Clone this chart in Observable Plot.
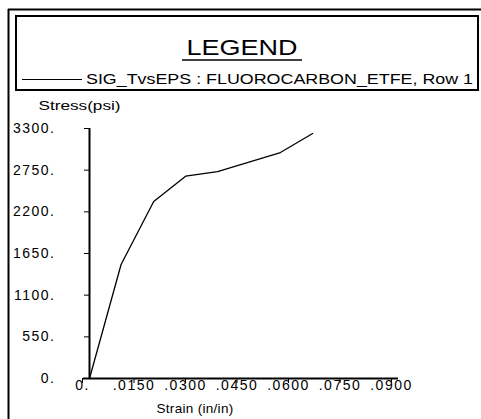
<!DOCTYPE html>
<html>
<head>
<meta charset="utf-8">
<script src="https://cdn.jsdelivr.net/npm/d3@7"></script>
<script src="https://cdn.jsdelivr.net/npm/@observablehq/plot@0.6"></script>
<style>
  html, body { margin: 0; padding: 0; background: #fff; }
  #wrap { position: relative; width: 481px; height: 419px; overflow: hidden; background: #fff; font-family: "Liberation Sans", Arial, sans-serif; }
  #plot { position: absolute; left: 0; top: 90px; }
  #overlay { position: absolute; left: 0; top: 0; pointer-events: none; }
</style>
</head>
<body>
<div id="wrap">
  <div id="plot"></div>
  <svg id="overlay" width="481" height="419"></svg>
</div>
<script>
// Data
const strain = [0, 0.0092, 0.0187, 0.0280, 0.0373, 0.0556, 0.0650];
const stress = [0, 1505, 2336, 2670, 2732, 2983, 3234];

const xTicks = [0, 0.015, 0.03, 0.045, 0.06, 0.075, 0.09];
const xTickLabels = ["0.", ".0150", ".0300", ".0450", ".0600", ".0750", ".0900"];
const yTicks = [0, 550, 1100, 1650, 2200, 2750, 3300];
const yTickLabels = ["0.", "550.", "1100.", "1650.", "2200.", "2750.", "3300."];

const legendTitle = "LEGEND";
const seriesName = "SIG_TvsEPS : FLUOROCARBON_ETFE, Row 1";
const xLabel = "Strain (in/in)";
const yLabel = "Stress(psi)";

const data = strain.map((s, i) => ({strain: s, stress: stress[i]}));

const chart = Plot.plot({
  width: 481,
  height: 329,
  marginTop: 38,
  marginBottom: 41,
  marginLeft: 89,
  marginRight: 83,
  x: {domain: [0, 0.09]},
  y: {domain: [0, 3300]},
  style: {fontFamily: "Liberation Sans, Arial, sans-serif", fontSize: "14px", background: "transparent", color: "black"},
  marks: [
    Plot.axisY({ticks: yTicks, tickSize: 5, tickPadding: 29, tickFormat: d => yTickLabels[yTicks.indexOf(d)], label: null}),
    Plot.axisX({ticks: xTicks, tickSize: 5, tickPadding: -3, dx: -7, tickFormat: d => xTickLabels[xTicks.indexOf(d)], label: null}),
    Plot.ruleX([0], {y1: 0, y2: 3300, stroke: "black", strokeWidth: 2}),
    Plot.ruleY([0], {stroke: "black", strokeWidth: 2, insetLeft: -6}),
    Plot.line(data, {x: "strain", y: "stress", stroke: "black", strokeWidth: 1.3}),
    Plot.text([yLabel], {frameAnchor: "top-left", textAnchor: "start", lineAnchor: "bottom", dx: -51, dy: -19, fontSize: 13}),
    Plot.text([xLabel], {frameAnchor: "bottom", textAnchor: "middle", lineAnchor: "bottom", dx: -49, dy: 34, fontSize: 13.5})
  ]
});
document.getElementById("plot").appendChild(chart);

// widen tick label glyph spacing to match the reference's wide font
chart.querySelectorAll('[aria-label="y-axis tick label"] text, [aria-label="x-axis tick label"] text').forEach(t => {
  t.style.letterSpacing = "1.5px";
});
chart.querySelectorAll('[aria-label="text"] text').forEach(t => {
  if (t.textContent === yLabel) { t.setAttribute("textLength", 82); t.setAttribute("lengthAdjust", "spacingAndGlyphs"); }
  if (t.textContent === xLabel) { t.style.letterSpacing = "0.3px"; }
});

// Frame and legend
const ov = d3.select("#overlay");
ov.append("line").attr("x1", 8.5).attr("y1", 9).attr("x2", 8.5).attr("y2", 419).attr("stroke", "black").attr("stroke-width", 2);
ov.append("line").attr("x1", 8).attr("y1", 9.5).attr("x2", 481).attr("y2", 9.5).attr("stroke", "black").attr("stroke-width", 2);
ov.append("rect").attr("x", 16).attr("y", 16).attr("width", 462).attr("height", 74)
  .attr("fill", "white").attr("stroke", "black").attr("stroke-width", 2);
ov.append("text").attr("x", 242).attr("y", 55).attr("text-anchor", "middle")
  .attr("font-family", "Liberation Sans, Arial, sans-serif").attr("font-size", 22)
  .attr("textLength", 111).attr("lengthAdjust", "spacingAndGlyphs").text(legendTitle);
ov.append("line").attr("x1", 182).attr("x2", 302).attr("y1", 60).attr("y2", 60).attr("stroke", "black").attr("stroke-width", 1.5);
ov.append("line").attr("x1", 22).attr("x2", 82).attr("y1", 79.5).attr("y2", 79.5).attr("stroke", "black").attr("stroke-width", 1);
ov.append("text").attr("x", 86).attr("y", 84)
  .attr("font-family", "Liberation Sans, Arial, sans-serif").attr("font-size", 14)
  .attr("textLength", 387).attr("lengthAdjust", "spacingAndGlyphs").text(seriesName);
</script>
</body>
</html>
